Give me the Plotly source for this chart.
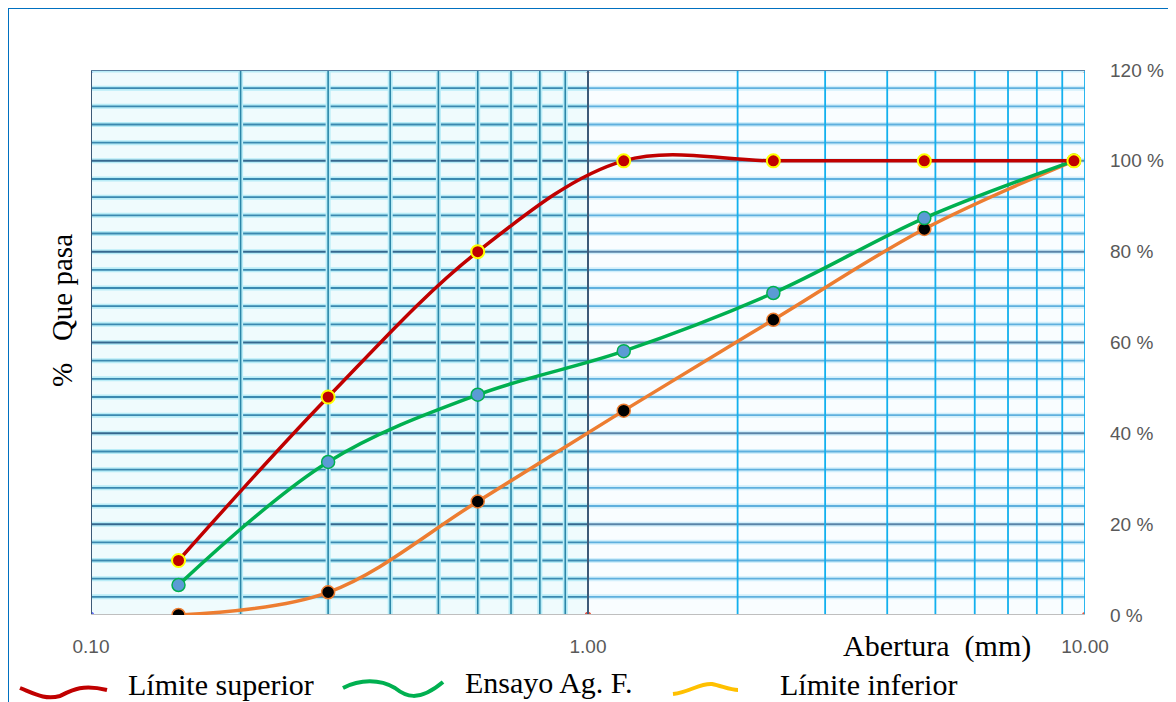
import plotly.graph_objects as go

# ---------------- data ----------------
sieves = [0.15, 0.3, 0.6, 1.18, 2.36, 4.75, 9.5]            # Abertura (mm)
lim_sup = [12, 48, 80, 100, 100, 100, 100]                   # Límite superior
ensayo = [6.6, 33.7, 48.5, 58.1, 70.9, 87.4, 100]            # Ensayo Ag. F.
lim_inf = [0, 5, 25, 45, 65, 85, 100]                        # Límite inferior

x_tickvals = [0.1, 1, 10]
x_ticktext = ["0.10", "1.00", "10.00"]
y_tickvals = [0, 20, 40, 60, 80, 100, 120]
y_ticktext = ["0 %", "20 %", "40 %", "60 %", "80 %", "100 %", "120 %"]

h_grid = list(range(0, 121, 4))
v_left = [0.2, 0.3, 0.4, 0.5, 0.6, 0.7, 0.8, 0.9]
v_right = [2, 3, 4, 5, 6, 7, 8, 9, 10]

# ---------------- geometry (page body has an 8px margin) ----------------
OFF = 8
W, H = 1176 - OFF, 702 - OFF
PL, PR, PT, PB = 91, 1085, 70, 615          # plot area in window pixels
L, T = PL - OFF, PT - OFF
R, B = 1176 - PR, 702 - PB
PW, PH = PR - PL, PB - PT


def px(x):
    return (x - PL) / PW


def py(y):
    return (PB - y) / PH


fig = go.Figure()


def seg_trace(xs, ys, color, width):
    fig.add_trace(go.Scatter(x=xs, y=ys, mode="lines", line=dict(color=color, width=width),
                             hoverinfo="skip", showlegend=False))


# background bands (left decade tinted)
fig.add_trace(go.Scatter(x=[0.1, 1, 1, 0.1, 0.1], y=[0, 0, 120, 120, 0], fill="toself",
                         fillcolor="#effbfd", line=dict(width=0), hoverinfo="skip", showlegend=False))
fig.add_trace(go.Scatter(x=[1, 10, 10, 1, 1], y=[0, 0, 120, 120, 0], fill="toself",
                         fillcolor="#f9fdff", line=dict(width=0), hoverinfo="skip", showlegend=False))

# horizontal grid
for (xa, xb), glow_c, minor_c, major_c in [
    ((0.1, 1), "#b8ecf7", "#3a89b0", "#35688f"),
    ((1, 10), "#d2effb", "#5fb0de", "#5a84a8"),
]:
    glow_x, glow_y, mx, my, Mx, My = [], [], [], [], [], []
    for v in h_grid:
        if v == 0:
            continue
        glow_x += [xa, xb, None]
        glow_y += [v, v, None]
        if v % 20 == 0:
            Mx += [xa, xb, None]
            My += [v, v, None]
        else:
            mx += [xa, xb, None]
            my += [v, v, None]
    seg_trace(glow_x, glow_y, glow_c, 5)
    seg_trace(mx, my, minor_c, 1.8)
    seg_trace(Mx, My, major_c, 2)

# vertical grid
gx, gy = [], []
for v in v_left:
    gx += [v, v, None]
    gy += [0, 120, None]
seg_trace(gx, gy, "#b8ecf7", 5)
seg_trace(gx, gy, "#2b86a8", 1.6)
rx, ry = [], []
for v in v_right:
    rx += [v, v, None]
    ry += [0, 120, None]
seg_trace(rx, ry, "#13b0ee", 1.8)
seg_trace([1, 1], [0, 120], "#3d5a78", 2)
seg_trace([0.1, 0.1], [0, 120], "#3d5a78", 2)
seg_trace([0.1, 10], [120, 120], "#5a7fa0", 2)
seg_trace([0.1, 10], [0, 0], "#bfbfbf", 2)

# data series
fig.add_trace(go.Scatter(x=sieves, y=lim_inf, mode="lines+markers", name="Límite inferior",
                         line=dict(color="#ed7d31", width=3.5, shape="spline"),
                         marker=dict(size=13, color="#000000", line=dict(color="#ed7d31", width=1.5)),
                         showlegend=False))
fig.add_trace(go.Scatter(x=sieves, y=ensayo, mode="lines+markers", name="Ensayo Ag. F.",
                         line=dict(color="#00b050", width=3.5, shape="spline"),
                         marker=dict(size=13, color="#5b9bd5", line=dict(color="#00b050", width=1.5)),
                         showlegend=False))
fig.add_trace(go.Scatter(x=sieves, y=lim_sup, mode="lines+markers", name="Límite superior",
                         line=dict(color="#c00000", width=3.5, shape="spline"),
                         marker=dict(size=13, color="#c00000", line=dict(color="#ffff00", width=2)),
                         showlegend=False))

# ---------------- annotations ----------------
NB = "\u00a0"
serif = "Liberation Serif"
ann = [
    dict(text="%" + NB * 3 + "Que pasa", x=px(62), y=py(311), textangle=-90, xanchor="center",
         font=dict(family=serif, size=29, color="#000000")),
    dict(text="Abertura" + NB * 2 + "(mm)", x=px(937), y=py(646), xanchor="center",
         font=dict(family=serif, size=30, color="#000000")),
    dict(text="Límite superior", x=px(127), y=py(684), xanchor="left",
         font=dict(family=serif, size=30, color="#000000")),
    dict(text="Ensayo Ag. F.", x=px(464), y=py(682), xanchor="left",
         font=dict(family=serif, size=30, color="#000000")),
    dict(text="Límite inferior", x=px(779), y=py(684), xanchor="left",
         font=dict(family=serif, size=30, color="#000000")),
]
for a in ann:
    a.update(xref="paper", yref="paper", showarrow=False, yanchor="middle", borderpad=0)


def wave(points, color):
    (x0, y0) = points[0]
    d = f"M {px(x0)},{py(y0)}"
    for i in range(1, len(points), 3):
        c1, c2, e = points[i], points[i + 1], points[i + 2]
        d += f" C {px(c1[0])},{py(c1[1])} {px(c2[0])},{py(c2[1])} {px(e[0])},{py(e[1])}"
    return dict(type="path", xref="paper", yref="paper", path=d,
                line=dict(color=color, width=4))


shapes = [
    wave([(20, 688), (35, 694), (45, 700), (60, 696), (72, 690), (82, 684), (107, 690)], "#c00000"),
    wave([(343, 688), (360, 679), (380, 679), (395, 688), (405, 696), (418, 703), (443, 682)], "#00b050"),
    wave([(673, 694), (690, 692), (700, 683), (712, 684), (722, 686), (730, 690), (738, 690)], "#ffc000"),
    dict(type="rect", xref="paper", yref="paper", x0=px(8), y0=py(730), x1=px(1200), y1=py(8),
         line=dict(color="#0070c0", width=2), layer="below"),
]

fig.update_layout(
    width=W, height=H,
    margin=dict(l=L, r=R, t=T, b=B, autoexpand=False),
    paper_bgcolor="#ffffff", plot_bgcolor="#ffffff",
    showlegend=False,
    annotations=ann,
    shapes=shapes,
    xaxis=dict(type="log", range=[-1, 1], tickvals=x_tickvals, ticktext=x_ticktext,
               showgrid=False, zeroline=False, showline=False, ticks="",
               ticklabelstandoff=18,
               tickfont=dict(family="Liberation Sans", size=19, color="#595959")),
    yaxis=dict(range=[0, 120], side="right", tickvals=y_tickvals, ticktext=y_ticktext,
               showgrid=False, zeroline=False, showline=False, ticks="",
               ticklabelstandoff=24,
               tickfont=dict(family="Liberation Sans", size=19, color="#595959")),
)

fig.write_html("out.html")
